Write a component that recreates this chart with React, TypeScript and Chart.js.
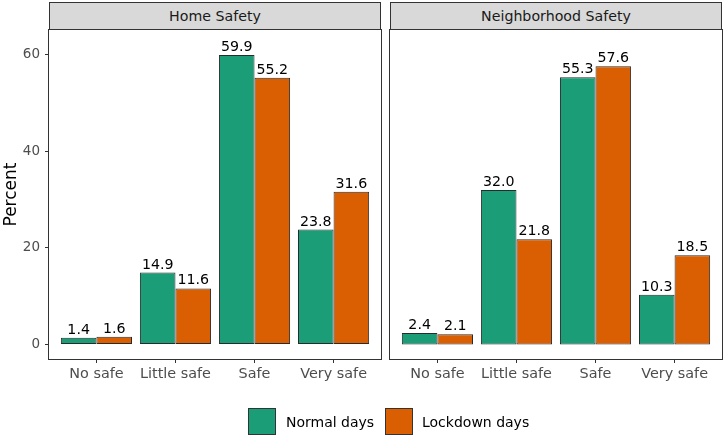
import React, { useEffect, useRef } from "react";
import { Chart, registerables } from "chart.js";
Chart.register(...registerables);

const categories = ["No safe", "Little safe", "Safe", "Very safe"];
const panelTitles = ["Home Safety", "Neighborhood Safety"];
const seriesNames = ["Normal days", "Lockdown days"];
const homeNormal = [1.4, 14.9, 59.9, 23.8];
const homeLockdown = [1.6, 11.6, 55.2, 31.6];
const neighNormal = [2.4, 32.0, 55.3, 10.3];
const neighLockdown = [2.1, 21.8, 57.6, 18.5];
const yTicks = [0, 20, 40, 60];
const seriesColors = ["#1b9e77", "#d95f02"];

const FONT = "'DejaVu Sans', sans-serif";

const panelPlugin = {
  id: "panelDeco",
  afterDatasetsDraw(chart: any) {
    const ctx = chart.ctx;
    const { left, top, right, bottom } = chart.chartArea;
    ctx.save();
    ctx.font = `14.2px ${FONT}`;
    ctx.fillStyle = "#000";
    ctx.textAlign = "center";
    ctx.textBaseline = "alphabetic";
    chart.data.datasets.forEach((ds: any, di: number) => {
      const meta = chart.getDatasetMeta(di);
      meta.data.forEach((el: any, i: number) => {
        ctx.fillText(Number(ds.data[i].y).toFixed(1), el.x, el.y - 4);
      });
    });
    ctx.strokeStyle = "#333";
    ctx.lineWidth = 1;
    ctx.strokeRect(Math.round(left) - 0.5, Math.round(top) - 0.5, Math.round(right - left) + 1, Math.round(bottom - top) + 1);
    ctx.restore();
  },
};

function makeConfig(normal: number[], lockdown: number[], showY: boolean, padding: any): any {
  const tickGrid = {
    display: true,
    drawOnChartArea: false,
    drawTicks: true,
    tickLength: 4,
    color: "#333",
    lineWidth: 1,
    offset: false,
  };
  const barStyle = {
    borderColor: "#2a2a2a",
    borderWidth: 1,
    borderSkipped: false,
    categoryPercentage: 0.9,
    barPercentage: 1,
  };
  return {
    type: "bar",
    data: {
      datasets: [
        {
          label: seriesNames[0],
          data: normal.map((v, i) => ({ x: i, y: v })),
          backgroundColor: seriesColors[0],
          ...barStyle,
        },
        {
          label: seriesNames[1],
          data: lockdown.map((v, i) => ({ x: i, y: v })),
          backgroundColor: seriesColors[1],
          ...barStyle,
        },
      ],
    },
    options: {
      responsive: false,
      animation: false,
      layout: { padding },
      plugins: { legend: { display: false }, tooltip: { enabled: false } },
      scales: {
        x: {
          type: "linear",
          min: -0.6,
          max: 3.6,
          offset: false,
          afterBuildTicks: (s: any) => {
            s.ticks = categories.map((_, i) => ({ value: i }));
          },
          afterFit: (s: any) => {
            s.height = 79;
          },
          ticks: {
            callback: (v: any) => categories[v] ?? "",
            color: "#4d4d4d",
            font: { family: FONT, size: 14.4 },
            padding: 3,
            maxRotation: 0,
            autoSkip: false,
          },
          grid: tickGrid,
          border: { display: false },
        },
        y: {
          min: -3.0,
          max: 65.1,
          display: showY,
          afterBuildTicks: (s: any) => {
            s.ticks = yTicks.map((v) => ({ value: v }));
          },
          afterFit: (s: any) => {
            if (showY) s.width = 49;
          },
          title: {
            display: true,
            text: "Percent",
            color: "#000",
            font: { family: FONT, size: 17 },
            padding: { top: 1, bottom: 0 },
          },
          ticks: {
            color: "#4d4d4d",
            font: { family: FONT, size: 13.5 },
            padding: 5,
          },
          grid: tickGrid,
          border: { display: false },
        },
      },
    },
    plugins: [panelPlugin],
  };
}

export default function App() {
  const ref1 = useRef<HTMLCanvasElement>(null);
  const ref2 = useRef<HTMLCanvasElement>(null);

  useEffect(() => {
    const c1 = new Chart(
      ref1.current!,
      makeConfig(homeNormal, homeLockdown, true, { left: 0, top: 30, right: 724 - 381, bottom: 0 })
    );
    const c2 = new Chart(
      ref2.current!,
      makeConfig(neighNormal, neighLockdown, false, { left: 390, top: 30, right: 2, bottom: 0 })
    );
    return () => {
      c1.destroy();
      c2.destroy();
    };
  }, []);

  const stripStyle = (left: number, width: number): React.CSSProperties => ({
    position: "absolute",
    left,
    top: 2,
    width,
    height: 28,
    boxSizing: "border-box",
    background: "#d9d9d9",
    border: "1px solid #333",
    font: `14.2px ${FONT}`,
    color: "#1a1a1a",
    display: "flex",
    alignItems: "center",
    justifyContent: "center",
  });

  const keyStyle = (left: number, color: string): React.CSSProperties => ({
    position: "absolute",
    left,
    top: 408,
    width: 28,
    height: 27,
    boxSizing: "border-box",
    background: color,
    border: "1px solid #333",
  });

  const labelStyle = (left: number): React.CSSProperties => ({
    position: "absolute",
    left,
    top: 408,
    height: 27,
    display: "flex",
    alignItems: "center",
    font: `14px ${FONT}`,
    color: "#000",
    whiteSpace: "nowrap",
  });

  return (
    <div
      style={{
        position: "fixed",
        left: 0,
        top: 0,
        width: 724,
        height: 438,
        background: "#fff",
        overflow: "hidden",
      }}
    >
      <canvas ref={ref1} width={724} height={438} style={{ position: "absolute", left: 0, top: 0 }} />
      <canvas ref={ref2} width={724} height={438} style={{ position: "absolute", left: 0, top: 0 }} />
      <div style={stripStyle(49, 332)}>{panelTitles[0]}</div>
      <div style={stripStyle(390, 332)}>{panelTitles[1]}</div>
      <div style={keyStyle(248, seriesColors[0])} />
      <div style={labelStyle(286)}>{seriesNames[0]}</div>
      <div style={keyStyle(385, seriesColors[1])} />
      <div style={labelStyle(422)}>{seriesNames[1]}</div>
    </div>
  );
}
